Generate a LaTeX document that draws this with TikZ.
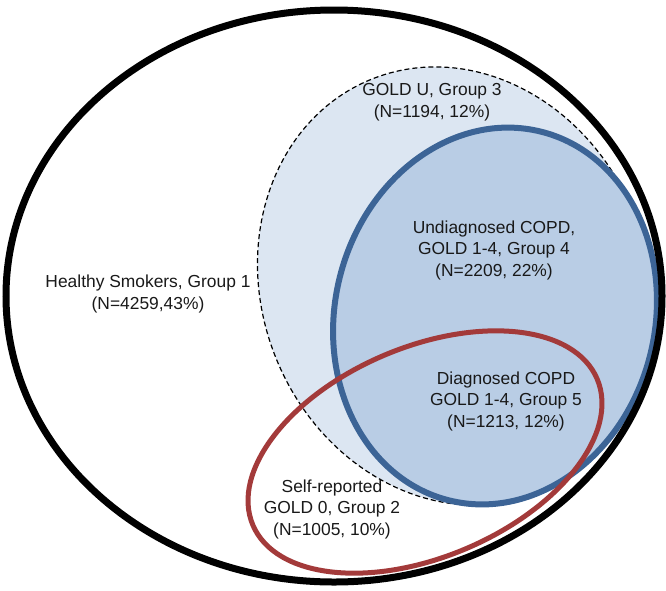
\documentclass[tikz,border=0pt]{standalone}
\usepackage{fontspec}
\setmainfont{Liberation Sans}
\usepackage{tikz}
\definecolor{goldufill}{HTML}{DCE6F2}
\definecolor{undiagfill}{HTML}{B9CDE5}
\definecolor{undiagline}{HTML}{3C6496}
\definecolor{diagline}{HTML}{A33A3A}
\tikzset{
  lab/.style={font=\fontsize{17.4}{21.5}\selectfont,text=black!90,align=center,inner sep=0pt},
  outerset/.style={draw=black,line width=7pt},
  goldu/.style={draw=black,fill=goldufill,line width=1.2pt,dash pattern=on 5pt off 3pt},
  undiag/.style={draw=undiagline,fill=undiagfill,line width=6pt},
  diag/.style={draw=diagline,line width=5pt},
}
\begin{document}
\begin{tikzpicture}[x=1pt,y=-1pt]
  \useasboundingbox (0,0) rectangle (666,590);
  % sets
  \draw[goldu,rotate around={22:(455,286)}] (455,286) ellipse [x radius=193, y radius=223];
  \draw[undiag,rotate around={-14:(495,316)}] (495,316) ellipse [x radius=160, y radius=190];
  \draw[outerset] (334,296) ellipse [x radius=328, y radius=286];
  \draw[diag,rotate around={23:(425,452)}] (425,452) ellipse [x radius=187, y radius=105];
  % labels
  \node[lab] (healthy) at (148,294) {Healthy Smokers, Group 1\\(N=4259,43\%)};
  \node[lab] (golduLab) at (432,102) {GOLD U, Group 3\\(N=1194, 12\%)};
  \node[lab] (undiagLab) at (494,250) {Undiagnosed COPD,\\GOLD 1-4, Group 4\\(N=2209, 22\%)};
  \node[lab] (diagLab) at (506,401) {Diagnosed COPD\\GOLD 1-4, Group 5\\(N=1213, 12\%)};
  \node[lab] (selfLab) at (332,509) {Self-reported\\GOLD 0, Group 2\\(N=1005, 10\%)};
\end{tikzpicture}
\end{document}
